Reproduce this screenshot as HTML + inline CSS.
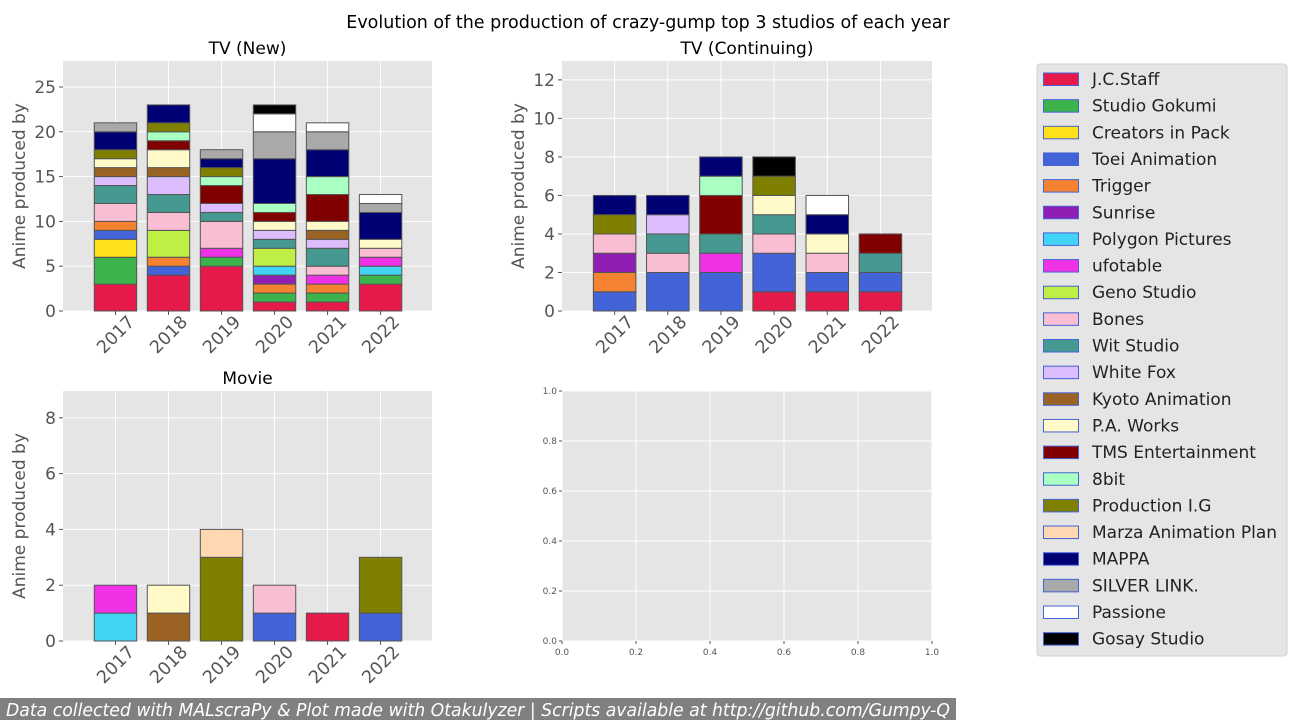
<!DOCTYPE html>
<html><head><meta charset="utf-8"><style>
body{margin:0;background:#fff;width:1296px;height:720px;overflow:hidden;font-family:"DejaVu Sans","Liberation Sans",sans-serif}
svg{display:block}
</style></head><body>
<svg id="c" width="1296" height="720" xmlns="http://www.w3.org/2000/svg" font-family="DejaVu Sans, Liberation Sans, sans-serif">
<text x="648" y="28" text-anchor="middle" font-size="17.5" fill="#000">Evolution of the production of crazy-gump top 3 studios of each year</text>
<rect x="0" y="698" width="956" height="22" fill="#808080"/>
<text x="6" y="716" font-size="17.5" font-style="italic" fill="#fff" textLength="944" lengthAdjust="spacingAndGlyphs">Data collected with MALscraPy &amp; Plot made with Otakulyzer | Scripts available at http://github.com/Gumpy-Q</text>
<g id="g"></g>
</svg>
<script>
const years=["2017","2018","2019","2020","2021","2022"];
const studios=["J.C.Staff","Studio Gokumi","Creators in Pack","Toei Animation","Trigger","Sunrise","Polygon Pictures","ufotable","Geno Studio","Bones","Wit Studio","White Fox","Kyoto Animation","P.A. Works","TMS Entertainment","8bit","Production I.G","Marza Animation Plan","MAPPA","SILVER LINK.","Passione","Gosay Studio"];
const colors=["#e6194b","#3cb44b","#ffe119","#4363d8","#f58231","#911eb4","#42d4f4","#f032e6","#bfef45","#fabed4","#469990","#dcbeff","#9a6324","#fffac8","#800000","#aaffc3","#808000","#ffd8b1","#000075","#a9a9a9","#ffffff","#000000"];
// [studio index, count] stacked per year
const tvNew=[
 [[0,3],[1,3],[2,2],[3,1],[4,1],[9,2],[10,2],[11,1],[12,1],[13,1],[16,1],[18,2],[19,1]],
 [[0,4],[3,1],[4,1],[8,3],[9,2],[10,2],[11,2],[12,1],[13,2],[14,1],[15,1],[16,1],[18,2]],
 [[0,5],[1,1],[7,1],[9,3],[10,1],[11,1],[14,2],[15,1],[16,1],[18,1],[19,1]],
 [[0,1],[1,1],[4,1],[5,1],[6,1],[8,2],[10,1],[11,1],[13,1],[14,1],[15,1],[18,5],[19,3],[20,2],[21,1]],
 [[0,1],[1,1],[4,1],[7,1],[9,1],[10,2],[11,1],[12,1],[13,1],[14,3],[15,2],[18,3],[19,2],[20,1]],
 [[0,3],[1,1],[6,1],[7,1],[9,1],[13,1],[18,3],[19,1],[20,1]]
];
const tvCont=[
 [[3,1],[4,1],[5,1],[9,1],[16,1],[18,1]],
 [[3,2],[9,1],[10,1],[11,1],[18,1]],
 [[3,2],[7,1],[10,1],[14,2],[15,1],[18,1]],
 [[0,1],[3,2],[9,1],[10,1],[13,1],[16,1],[21,1]],
 [[0,1],[3,1],[9,1],[13,1],[18,1],[20,1]],
 [[0,1],[3,1],[10,1],[14,1]]
];
const movie=[
 [[6,1],[7,1]],
 [[12,1],[13,1]],
 [[16,3],[17,1]],
 [[3,1],[9,1]],
 [[0,1]],
 [[3,1],[16,2]]
];
const tvNewTicks=[0,5,10,15,20,25];
const tvContTicks=[0,2,4,6,8,10,12];
const movieTicks=[0,2,4,6,8];
const emptyTicks=[0,0.2,0.4,0.6,0.8,1.0];

const NS="http://www.w3.org/2000/svg";
const G=document.getElementById('g');
function mk(t,a,p){const e=document.createElementNS(NS,t);for(const k in a)e.setAttribute(k,a[k]);(p||G).appendChild(e);return e;}

function panel(name,x0,y0,w,h,ymax,yt,data,title,ylabel){
 const g=mk('g',{});
 
 
 const bg=mk('rect',{x:x0,y:y0,width:w,height:h,fill:'#e5e5e5'},g);
 
 
 const xs=v=>x0+(v+0.99)/6.96*w;
 const ys=v=>y0+h-v/ymax*h;
 yt.forEach(t=>{
  mk('line',{x1:x0,x2:x0+w,y1:ys(t),y2:ys(t),stroke:'#fff','stroke-width':1},g);
  mk('line',{x1:x0-4,x2:x0,y1:ys(t),y2:ys(t),stroke:'#555','stroke-width':1},g);
  const tl=mk('text',{x:x0-7,y:ys(t)+6,'text-anchor':'end','font-size':17,fill:'#555'},g);
  tl.textContent=t;
  
  
 });
 years.forEach((yr,i)=>{
  const cx=xs(i);
  mk('line',{x1:cx,x2:cx,y1:y0,y2:y0+h,stroke:'#fff','stroke-width':1},g);
  mk('line',{x1:cx,x2:cx,y1:y0+h,y2:y0+h+4,stroke:'#555','stroke-width':1},g);
  const tl=mk('text',{x:0,y:0,'text-anchor':'end','font-size':17.5,fill:'#555',transform:`translate(${cx+20},${y0+h+12}) rotate(-45)`},g);
  tl.textContent=yr;
  
  
  let base=0;
  const bw=0.8/6.96*w;
  data[i].forEach(([s,c])=>{
   const r=mk('rect',{x:cx-bw/2,y:ys(base+c),width:bw,height:ys(base)-ys(base+c),fill:colors[s],stroke:'#555','stroke-width':1},g);
   
   
   base+=c;
  });
 });
 const tt=mk('text',{x:x0+w/2,y:y0-7,'text-anchor':'middle','font-size':17,fill:'#000'},g);
 tt.textContent=title;
 
 
 const yl=mk('text',{x:0,y:0,'text-anchor':'middle','font-size':17,fill:'#555',transform:`translate(${x0-38},${y0+h/2}) rotate(-90)`},g);
 yl.textContent=ylabel;
 
 
}
panel('tv-new',63,61,369,250,27.9,tvNewTicks,tvNew,'TV (New)','Anime produced by');
panel('tv-continuing',562,61,370,250,12.98,tvContTicks,tvCont,'TV (Continuing)','Anime produced by');
panel('movie',63,391,369,250,8.96,movieTicks,movie,'Movie','Anime produced by');

// empty panel
(function(){
 const x0=562,y0=391,w=370,h=250;
 const g=mk('g',{});
 
 
 mk('rect',{x:x0,y:y0,width:w,height:h,fill:'#e5e5e5'},g);
 emptyTicks.forEach(t=>{
  const X=x0+t*w, Y=y0+h-t*h;
  mk('line',{x1:X,x2:X,y1:y0,y2:y0+h,stroke:'#fff'},g);
  mk('line',{x1:x0,x2:x0+w,y1:Y,y2:Y,stroke:'#fff'},g);
  mk('line',{x1:X,x2:X,y1:y0+h,y2:y0+h+3,stroke:'#555'},g);
  mk('line',{x1:x0-3,x2:x0,y1:Y,y2:Y,stroke:'#555'},g);
  const a=mk('text',{x:X,y:y0+h+14,'text-anchor':'middle','font-size':9,fill:'#555'},g);
  a.textContent=t.toFixed(1);
  
  
  const b=mk('text',{x:x0-5,y:Y+3,'text-anchor':'end','font-size':9,fill:'#555'},g);
  b.textContent=t.toFixed(1);
  
  
 });
})();

// legend
(function(){
 const g=mk('g',{});
 
 
 mk('rect',{x:1037,y:64,width:250,height:592,rx:3,fill:'#e5e5e5',stroke:'#d0d0d0'},g);
 studios.forEach((s,i)=>{
  const y=79+i*26.65;
  const e=mk('g',{},g);
  
  
  mk('rect',{x:1043.5,y:y-6,width:35,height:12.5,fill:colors[i],stroke:'#4363d8','stroke-width':1},e);
  const t=mk('text',{x:1092,y:y+6,'font-size':17,fill:'#222'},e);
  t.textContent=s;
 });
})();
</script>
</body></html>
